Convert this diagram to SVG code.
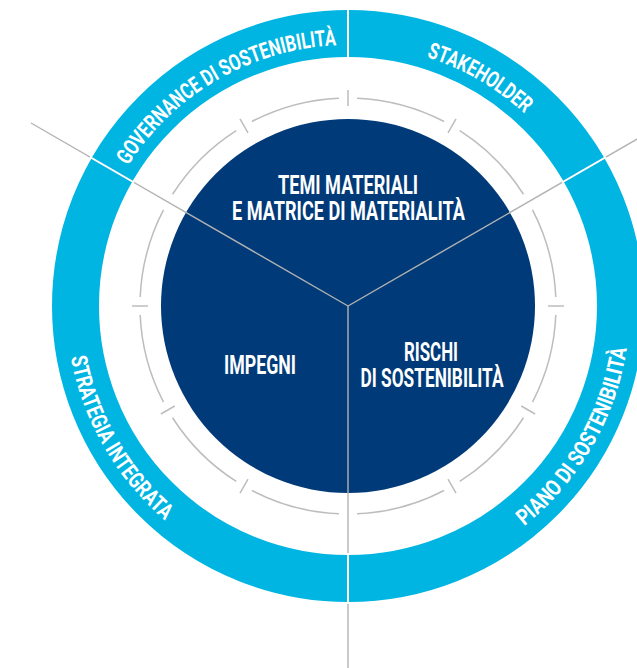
<svg xmlns="http://www.w3.org/2000/svg" width="637" height="668" viewBox="0 0 637 668">
<style>
.ring{fill:none;stroke:#00b5e2;stroke-width:47}
.core{fill:#003a78}
.dash{fill:none;stroke:#bdbdbd;stroke-width:1.5}
.tick{stroke:#bdbdbd;stroke-width:1.5}
.div{stroke:#b3b3b3;stroke-width:1.4}
.wdiv{stroke:#ffffff;stroke-width:2}
.t{font-family:Roboto,"Liberation Sans",sans-serif;font-weight:700;fill:#ffffff}
.c{font-size:25px;text-anchor:middle}
.r{font-size:22.5px;text-anchor:middle}
</style>
<defs>
<path id="pGov" d="M95.9,238.5 A261,261 0 0 1 415.5,53.9"/>
<path id="pSta" d="M280.5,53.9 A261,261 0 0 1 600.1,238.5"/>
<path id="pStr" d="M70.3,257 A282,282 0 0 0 251.6,571"/>
<path id="pPia" d="M444.4,571 A282,282 0 0 0 625.7,257"/>
</defs>
<rect width="637" height="668" fill="#ffffff"/>
<g id="outer-ring">
<circle class="ring" cx="348" cy="306" r="272.5"/>
</g>
<g id="dashed-ring">
<circle class="dash" cx="348" cy="306" r="208" pathLength="360" stroke-dasharray="25 5" stroke-dashoffset="27.5"/>
<line class="tick" x1="548" y1="306" x2="564" y2="306"/>
<line class="tick" x1="448" y1="132.8" x2="456" y2="118.9"/>
<line class="tick" x1="348" y1="106" x2="348" y2="90"/>
<line class="tick" x1="248" y1="132.8" x2="240" y2="118.9"/>
<line class="tick" x1="148" y1="306" x2="132" y2="306"/>
<line class="tick" x1="174.8" y1="406" x2="160.9" y2="414"/>
<line class="tick" x1="248" y1="479.2" x2="240" y2="493.1"/>
<line class="tick" x1="448" y1="479.2" x2="456" y2="493.1"/>
<line class="tick" x1="521.2" y1="406" x2="535.1" y2="414"/>
</g>
<g id="core">
<circle class="core" cx="348" cy="306" r="187"/>
</g>
<g id="connectors">
<line class="div" x1="348" y1="306" x2="31" y2="123"/>
<line class="div" x1="348" y1="306" x2="665" y2="123"/>
<line class="div" x1="348" y1="306" x2="348" y2="672"/>
<line class="wdiv" x1="348" y1="59" x2="348" y2="8"/>
<line class="wdiv" x1="561.9" y1="182.5" x2="606.1" y2="157"/>
<line class="wdiv" x1="134.1" y1="182.5" x2="89.9" y2="157"/>
<line class="wdiv" x1="348" y1="553" x2="348" y2="604"/>
</g>
<g id="node-temi">
<text class="t c" x="348" y="193.5" textLength="140" lengthAdjust="spacingAndGlyphs">TEMI MATERIALI</text>
<text class="t c" x="348.5" y="220" textLength="233" lengthAdjust="spacingAndGlyphs">E MATRICE DI MATERIALITÀ</text>
</g>
<g id="node-impegni">
<text class="t c" x="260" y="373.5" textLength="72" lengthAdjust="spacingAndGlyphs">IMPEGNI</text>
</g>
<g id="node-rischi">
<text class="t c" x="431" y="360.5" textLength="54" lengthAdjust="spacingAndGlyphs">RISCHI</text>
<text class="t c" x="432" y="386.5" textLength="143" lengthAdjust="spacingAndGlyphs">DI SOSTENIBILITÀ</text>
</g>
<g id="node-governance">
<text class="t r"><textPath href="#pGov" startOffset="50%" textLength="250" lengthAdjust="spacingAndGlyphs">GOVERNANCE DI SOSTENIBILITÀ</textPath></text>
</g>
<g id="node-stakeholder">
<text class="t r"><textPath href="#pSta" startOffset="50%" textLength="114" lengthAdjust="spacingAndGlyphs">STAKEHOLDER</textPath></text>
</g>
<g id="node-strategia">
<text class="t r"><textPath href="#pStr" startOffset="50%" textLength="192" lengthAdjust="spacingAndGlyphs">STRATEGIA INTEGRATA</textPath></text>
</g>
<g id="node-piano">
<text class="t r"><textPath href="#pPia" startOffset="50%" textLength="210" lengthAdjust="spacingAndGlyphs">PIANO DI SOSTENIBILITÀ</textPath></text>
</g>
</svg>
